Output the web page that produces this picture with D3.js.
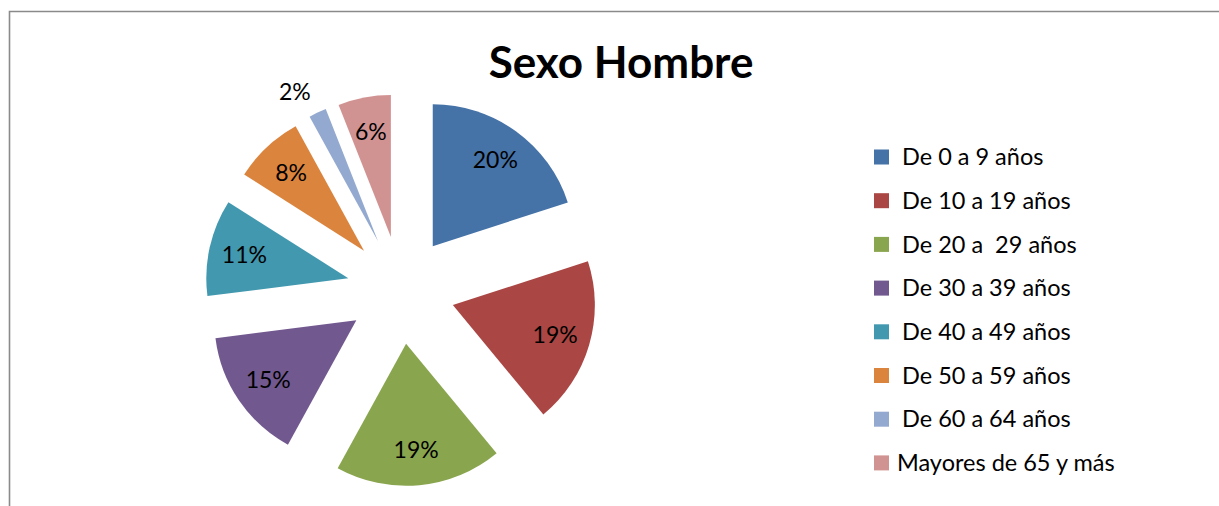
<!DOCTYPE html>
<html>
<head>
<meta charset="utf-8">
<script src="https://cdn.jsdelivr.net/npm/d3@7"></script>
<style>
  html, body { margin: 0; padding: 0; background: #fff; }
  svg text { white-space: pre; }
</style>
</head>
<body>
<div id="chart"></div>
<script>
const title = 'Sexo Hombre';
const categories = [
  'De 0 a 9 años',
  'De 10 a 19 años',
  'De 20 a  29 años',
  'De 30 a 39 años',
  'De 40 a 49 años',
  'De 50 a 59 años',
  'De 60 a 64 años',
  'Mayores de 65 y más'
];
const values = [20, 19, 19, 15, 11, 8, 2, 6];
const colors = ['#4572A7', '#AA4643', '#89A54E', '#71588F', '#4198AF', '#DB843D', '#93A9CF', '#D19392'];

const width = 1219, height = 506;
const cx = 401, cy = 290;
const radius = 142;
const explode = 54;
const font = 'Lato, "Open Sans", sans-serif';

const svg = d3.select('#chart')
  .append('svg')
  .attr('width', width)
  .attr('height', height)
  .style('font-family', font);

// chart frame (only top and left edges visible)
svg.append('path')
  .attr('d', `M9.5,${height} V11.5 H${width}`)
  .attr('fill', 'none')
  .attr('stroke', '#8a8a8a')
  .attr('stroke-width', 1.6);

svg.append('text')
  .attr('x', 621)
  .attr('y', 78)
  .attr('text-anchor', 'middle')
  .style('font-size', '44px')
  .style('font-weight', 'bold')
  .text(title);

const total = d3.sum(values);
const pie = d3.pie().sort(null).value(d => d);
const arcs = pie(values);
const arc = d3.arc().innerRadius(0).outerRadius(radius);
const fmt = d3.format('.0%');

const g = svg.append('g').attr('transform', `translate(${cx},${cy})`);

const slices = g.selectAll('g.slice')
  .data(arcs)
  .join('g')
  .attr('class', 'slice')
  .attr('transform', d => {
    const mid = (d.startAngle + d.endAngle) / 2;
    return `translate(${explode * Math.sin(mid)},${-explode * Math.cos(mid)})`;
  });

slices.append('path')
  .attr('d', arc)
  .attr('fill', (d, i) => colors[i]);

// labels inside, small slices pushed outside
slices.append('text')
  .attr('transform', d => {
    const mid = (d.startAngle + d.endAngle) / 2;
    const lr = d.value / total < 0.03 ? radius * 1.2 : radius * 0.75;
    const a = d.value / total < 0.03 ? mid - 0.07 : mid;
    return `translate(${lr * Math.sin(a)},${-lr * Math.cos(a)})`;
  })
  .attr('text-anchor', 'middle')
  .attr('dy', '0.35em')
  .style('font-size', '23px')
  .attr('fill', '#000')
  .text(d => fmt(d.value / total));

// legend
const legend = svg.append('g').attr('transform', 'translate(874,157)');
const items = legend.selectAll('g')
  .data(categories)
  .join('g')
  .attr('transform', (d, i) => `translate(0,${i * 43.7})`);

items.append('rect')
  .attr('x', 0)
  .attr('y', -7.5)
  .attr('width', 15)
  .attr('height', 15)
  .attr('fill', (d, i) => colors[i]);

items.append('text')
  .attr('x', (d, i) => i === categories.length - 1 ? 23 : 28)
  .attr('dy', '0.35em')
  .style('font-size', '23.5px')
  .attr('fill', '#000')
  .text(d => d);
</script>
</body>
</html>
